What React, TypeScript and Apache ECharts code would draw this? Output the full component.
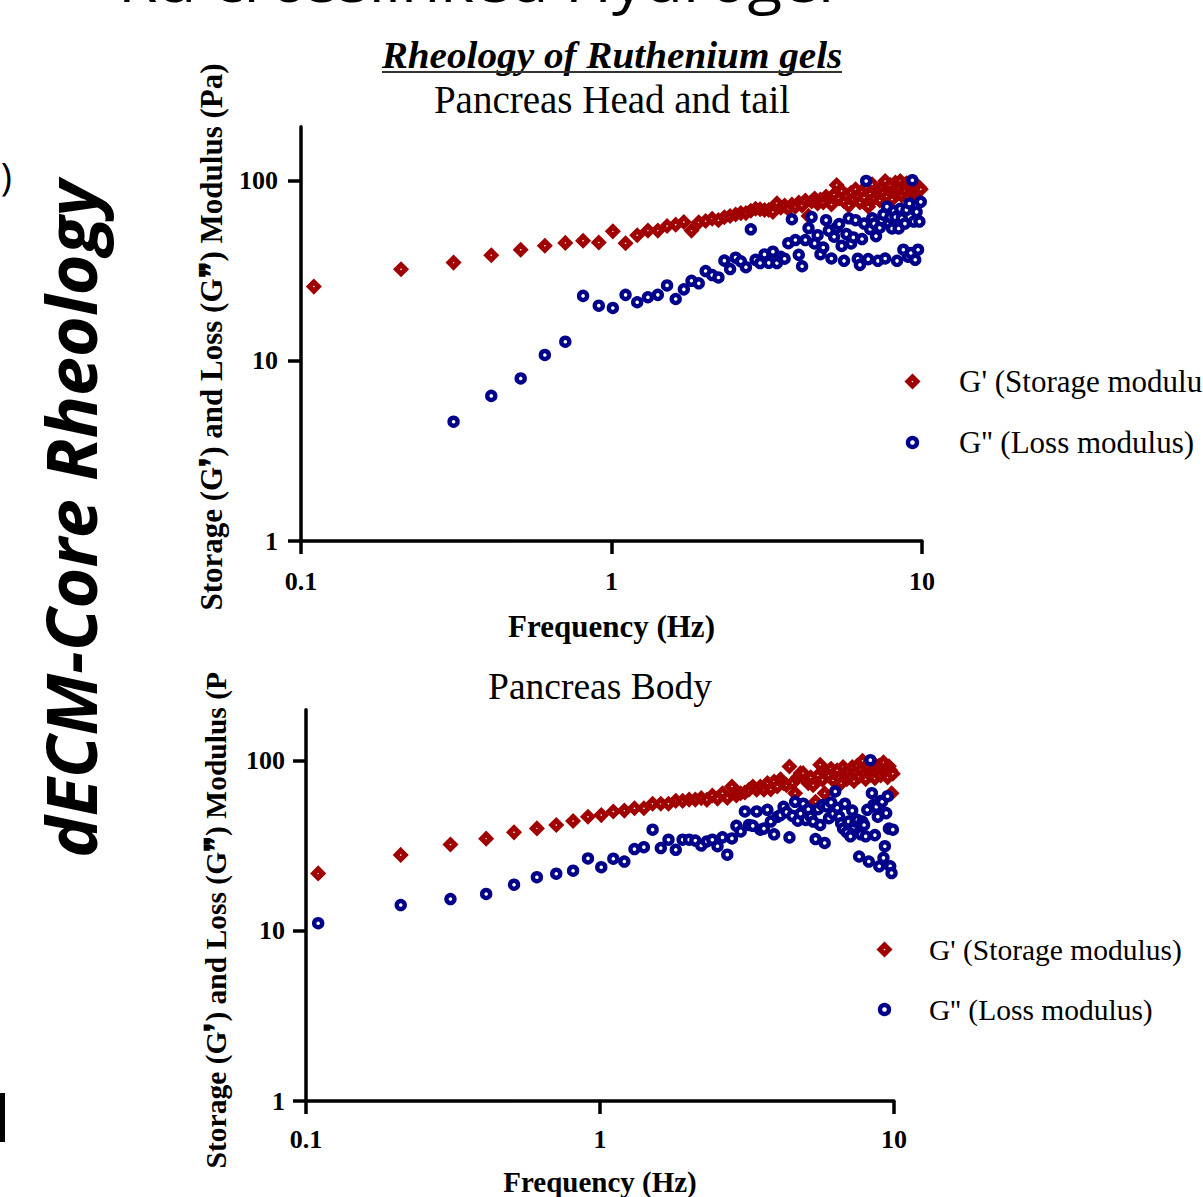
import React, { useEffect, useRef } from "react";
import * as echarts from "echarts";

// Frequency (Hz) of each measurement point
const FREQ = [
  0.11, 0.21, 0.31, 0.41, 0.51, 0.61, 0.71, 0.81, 0.91, 1.01,
  1.11, 1.21, 1.31, 1.41, 1.51, 1.61, 1.71, 1.81, 1.91, 2.01,
  2.11, 2.21, 2.31, 2.41, 2.51, 2.61, 2.71, 2.81, 2.91, 3.01,
  3.11, 3.21, 3.31, 3.41, 3.51, 3.61, 3.71, 3.81, 3.91, 4.01,
  4.11, 4.21, 4.31, 4.41, 4.51, 4.61, 4.71, 4.81, 4.91, 5.01,
  5.11, 5.21, 5.31, 5.41, 5.51, 5.61, 5.71, 5.81, 5.91, 6.01,
  6.11, 6.21, 6.31, 6.41, 6.51, 6.61, 6.71, 6.81, 6.91, 7.01,
  7.11, 7.21, 7.31, 7.41, 7.51, 7.61, 7.71, 7.81, 7.91, 8.01,
  8.11, 8.21, 8.31, 8.41, 8.51, 8.61, 8.71, 8.81, 8.91, 9.01,
  9.11, 9.21, 9.31, 9.41, 9.51, 9.61, 9.71, 9.81, 9.91,
];

// Pancreas Head and tail
const HEAD_STORAGE = [
  25.9, 32.3, 35.2, 38.7, 41.5, 43.7, 45.3, 46.6, 45.5, 52.5,
  45.1, 49.9, 53.0, 53.0, 56.2, 57.2, 59.2, 53.0, 59.0, 60.0,
  61.7, 60.6, 62.9, 63.9, 65.1, 66.3, 66.3, 68.4, 70.1, 69.6,
  69.0, 69.0, 67.3, 75.2, 71.0, 73.0, 70.0, 74.0, 72.0, 76.0,
  73.0, 78.0, 64.0, 77.0, 80.0, 75.0, 79.0, 76.0, 82.0, 78.0,
  74.0, 84.0, 95.0, 80.0, 88.0, 77.0, 83.0, 73.0, 86.0, 79.0,
  90.0, 82.0, 76.0, 87.0, 81.0, 93.0, 72.0, 85.0, 96.0, 80.0,
  89.0, 84.0, 78.0, 92.0, 86.0, 100, 82.0, 90.0, 95.0, 79.0,
  88.0, 98.0, 85.0, 91.0, 100, 83.0, 94.0, 88.0, 97.0, 81.0,
  92.0, 86.0, 99.0, 90.0, 84.0, 95.0, 88.0, 92.0, 90.0,
];
const HEAD_LOSS = [
  null, null, 4.6, 6.4, 8.0, 10.8, 12.8, 23.0, 20.3, 19.7,
  23.3, 21.2, 22.6, 23.3, 26.3, 22.1, 25.0, 27.9, 27.0, 31.6,
  30.0, 29.1, 36.1, 32.4, 37.5, 35.8, 33.2, 53.9, 36.5, 35.0,
  39.1, 35.1, 40.5, 35.0, 37.9, 37.0, 45.1, 61.3, 47.0, 38.9,
  33.6, 47.0, 54.8, 63.0, 45.0, 50.0, 39.2, 42.7, 60.6, 53.0,
  37.1, 49.0, 55.0, 57.6, 43.6, 36.0, 50.7, 62.0, 45.0, 48.6,
  60.6, 37.0, 34.2, 47.6, 58.0, 100, 36.8, 54.1, 62.0, 58.0,
  49.4, 36.0, 55.0, 60.6, 65.0, 37.1, 72.0, 58.0, 63.0, 54.5,
  68.0, 63.0, 36.0, 54.5, 70.0, 62.0, 41.5, 58.0, 69.1, 38.0,
  75.0, 39.8, 101, 59.5, 36.5, 67.4, 41.5, 59.5, 76.6,
];

// Pancreas Body
const BODY_STORAGE = [
  21.8, 28.0, 32.2, 34.9, 38.0, 40.1, 42.0, 44.3, 46.9, 48.0,
  50.4, 51.0, 52.6, 52.6, 56.0, 56.0, 56.0, 58.2, 58.2, 59.2,
  59.2, 60.4, 59.0, 62.6, 60.0, 64.6, 60.5, 70.7, 62.6, 64.6,
  65.2, 67.6, 70.7, 67.6, 70.7, 67.6, 74.0, 68.0, 75.6, 70.7,
  78.0, 74.0, 72.0, 92.6, 74.0, 64.6, 80.0, 84.7, 84.7, 78.0,
  74.0, 80.0, 72.0, 57.5, 82.0, 94.8, 77.4, 64.6, 86.0, 82.0,
  90.0, 77.0, 84.0, 88.0, 80.0, 74.0, 92.0, 85.0, 78.0, 87.0,
  80.0, 92.0, 76.0, 86.0, 94.0, 81.0, 89.0, 100, 84.0, 78.0,
  91.0, 96.0, 83.0, 88.0, 97.0, 79.0, 90.0, 85.0, 94.0, 82.0,
  89.0, 98.0, 86.0, 91.0, 80.0, 93.0, 88.0, 64.6, 84.0,
];
const BODY_LOSS = [
  11.1, 14.2, 15.4, 16.5, 18.7, 20.7, 21.7, 22.6, 26.7, 23.7,
  26.6, 25.6, 30.3, 31.1, 39.4, 30.7, 34.4, 30.0, 34.4, 34.4,
  34.0, 31.8, 33.6, 34.4, 31.5, 35.5, 28.1, 35.0, 41.5, 38.5,
  50.4, 42.0, 41.5, 50.4, 39.4, 40.0, 51.6, 44.0, 37.0, 46.9,
  48.0, 53.7, 50.0, 35.5, 47.5, 57.5, 44.5, 49.0, 56.0, 45.0,
  52.0, 47.0, 44.0, 34.7, 52.0, 42.0, 55.0, 32.9, 54.0, 46.0,
  57.0, 49.0, 66.1, 53.0, 47.0, 43.0, 40.0, 56.0, 38.0, 44.0,
  36.0, 51.0, 41.0, 44.0, 45.0, 27.4, 37.0, 44.0, 42.0, 36.0,
  51.6, 25.6, 101, 64.6, 55.0, 36.6, 53.7, 47.0, 24.0, 58.0,
  57.5, 26.9, 31.5, 49.3, 62.0, 40.0, 24.0, 21.9, 39.4,
];

const X_TICKS = [0.1, 1, 10];
const Y_TICKS = [1, 10, 100];
const STORAGE_NAME = "G' (Storage modulus)";
const LOSS_NAME = "G'' (Loss modulus)";
const MAIN_TITLE = "Rheology of Ruthenium gels";
const HEAD_TITLE = "Pancreas Head and tail";
const BODY_TITLE = "Pancreas Body";
const X_NAME = "Frequency (Hz)";
const Y_NAME = "Storage (G\u275C) and Loss (G\u275E) Modulus (Pa)";
const Y_NAME_CUT = "Storage (G\u275C) and Loss (G\u275E) Modulus (P";

const RED = "#a00000";
const BLUE = "#00008b";
const SERIF = '"Liberation Serif", "Times New Roman", serif';

function pairs(values: (number | null)[]) {
  const out: number[][] = [];
  values.forEach((v, i) => {
    if (v != null) out.push([FREQ[i], v]);
  });
  return out;
}

function fmtTick(v: number) {
  const e = Math.round(Math.log10(v));
  return e < 0 ? "0.1" : String(Math.pow(10, e));
}

function xAxisCfg(gridIndex: number, margin: number, nameGap: number, fs: number) {
  return {
    type: "log",
    logBase: 10,
    gridIndex,
    min: 0.1,
    max: 10,
    name: X_NAME,
    nameLocation: "middle",
    nameGap,
    nameTextStyle: { fontFamily: SERIF, fontWeight: "bold", fontSize: fs, color: "#000" },
    axisLine: { show: true, onZero: false, lineStyle: { color: "#000", width: 3.5 } },
    axisTick: { show: true, length: 13, customValues: X_TICKS, lineStyle: { color: "#000", width: 3.5 } },
    axisLabel: {
      customValues: X_TICKS,
      margin,
      formatter: fmtTick,
      fontFamily: SERIF,
      fontWeight: "bold",
      fontSize: 26,
      color: "#000",
    },
    splitLine: { show: false },
    minorTick: { show: false },
  };
}

function yAxisCfg(gridIndex: number, margin: number) {
  return {
    type: "log",
    logBase: 10,
    gridIndex,
    min: 1,
    max: 200,
    axisLine: { show: true, onZero: false, lineStyle: { color: "#000", width: 3.5 } },
    axisTick: { show: true, length: 13, customValues: Y_TICKS, lineStyle: { color: "#000", width: 3.5 } },
    axisLabel: {
      customValues: Y_TICKS,
      margin,
      formatter: fmtTick,
      fontFamily: SERIF,
      fontWeight: "bold",
      fontSize: 26,
      color: "#000",
    },
    splitLine: { show: false },
    minorTick: { show: false },
  };
}

function storageSeries(idx: number, values: (number | null)[]) {
  return {
    name: STORAGE_NAME,
    type: "scatter",
    xAxisIndex: idx,
    yAxisIndex: idx,
    symbol: "diamond",
    symbolSize: 9,
    itemStyle: { color: "#fff", borderColor: RED, borderWidth: 5, opacity: 1 },
    data: pairs(values),
  };
}

function lossSeries(idx: number, values: (number | null)[]) {
  return {
    name: LOSS_NAME,
    type: "scatter",
    xAxisIndex: idx,
    yAxisIndex: idx,
    symbol: "circle",
    symbolSize: 8,
    itemStyle: { color: "#fff", borderColor: BLUE, borderWidth: 4.4, opacity: 1 },
    data: pairs(values),
  };
}

function legendCfg(left: number, top: number, fs: number, padLeft: number) {
  return {
    orient: "vertical",
    left,
    top,
    padding: 0,
    itemWidth: 9,
    itemHeight: 9,
    itemGap: 30,
    selectedMode: false,
    data: [
      { name: STORAGE_NAME, icon: "diamond", itemStyle: { color: "#fff", borderColor: RED, borderWidth: 5 } },
      { name: LOSS_NAME, icon: "circle", itemStyle: { color: "#fff", borderColor: BLUE, borderWidth: 4.4 } },
    ],
    textStyle: {
      fontFamily: SERIF,
      fontSize: fs,
      color: "#000",
      lineHeight: 30,
      padding: [0, 0, 0, padLeft],
    },
  };
}

export default function App() {
  const ref = useRef<HTMLDivElement>(null);

  useEffect(() => {
    if (!ref.current) return;
    const chart = echarts.init(ref.current, null, { renderer: "svg", width: 1203, height: 1197 });

    const option = {
      animation: false,
      backgroundColor: "#fff",
      grid: [
        { left: 301, top: 126.8, width: 621, height: 414.2, containLabel: false },
        { left: 306, top: 709.7, width: 588, height: 392.3, containLabel: false },
      ],
      xAxis: [xAxisCfg(0, 27, 70, 31), xAxisCfg(1, 25, 66, 29)],
      yAxis: [yAxisCfg(0, 23), yAxisCfg(1, 21)],
      legend: [legendCfg(905.5, 366, 31, 37), legendCfg(877.5, 934.5, 29.5, 35)],
      series: [
        storageSeries(0, HEAD_STORAGE),
        lossSeries(0, HEAD_LOSS),
        storageSeries(1, BODY_STORAGE),
        lossSeries(1, BODY_LOSS),
      ],
      graphic: [
        {
          type: "text",
          x: 118,
          y: -20,
          scaleX: 1.1,
          style: { text: "Ru crosslinked Hydrogel", font: '58px "Open Sans"', fill: "#000", textAlign: "left", textVerticalAlign: "middle" },
        },
        {
          type: "text",
          x: 12,
          y: 176,
          style: { text: ")", font: '38px "Open Sans"', fill: "#000", textAlign: "right", textVerticalAlign: "middle" },
        },
        { type: "rect", shape: { x: 0, y: 1093, width: 5, height: 49 }, style: { fill: "#000" } },
        {
          type: "text",
          x: 70,
          y: 519,
          rotation: Math.PI / 2,
          style: {
            text: "dECM-Core Rheology",
            font: 'italic bold 70px "Open Sans"',
            fill: "#000",
            textAlign: "center",
            textVerticalAlign: "middle",
          },
        },
        {
          type: "text",
          x: 612,
          y: 55,
          scaleX: 1.06,
          style: { text: MAIN_TITLE, font: `italic bold 37px ${SERIF}`, fill: "#000", textAlign: "center", textVerticalAlign: "middle" },
        },
        { type: "line", shape: { x1: 382, y1: 72, x2: 842, y2: 72 }, style: { stroke: "#333", lineWidth: 2 } },
        {
          type: "text",
          x: 612,
          y: 99,
          style: { text: HEAD_TITLE, font: `39px ${SERIF}`, fill: "#000", textAlign: "center", textVerticalAlign: "middle" },
        },
        {
          type: "text",
          x: 600,
          y: 686,
          style: { text: BODY_TITLE, font: `37.5px ${SERIF}`, fill: "#000", textAlign: "center", textVerticalAlign: "middle" },
        },
        {
          type: "text",
          x: 211,
          y: 337,
          rotation: Math.PI / 2,
          style: { text: Y_NAME, font: `bold 31px ${SERIF}`, fill: "#000", textAlign: "center", textVerticalAlign: "middle" },
        },
        {
          type: "text",
          x: 216,
          y: 672,
          rotation: Math.PI / 2,
          style: { text: Y_NAME_CUT, font: `bold 29.5px ${SERIF}`, fill: "#000", textAlign: "right", textVerticalAlign: "middle" },
        },
      ],
    };

    chart.setOption(option as any);
    return () => chart.dispose();
  }, []);

  return <div ref={ref} style={{ position: "absolute", left: 0, top: 0, width: 1203, height: 1197 }} />;
}
